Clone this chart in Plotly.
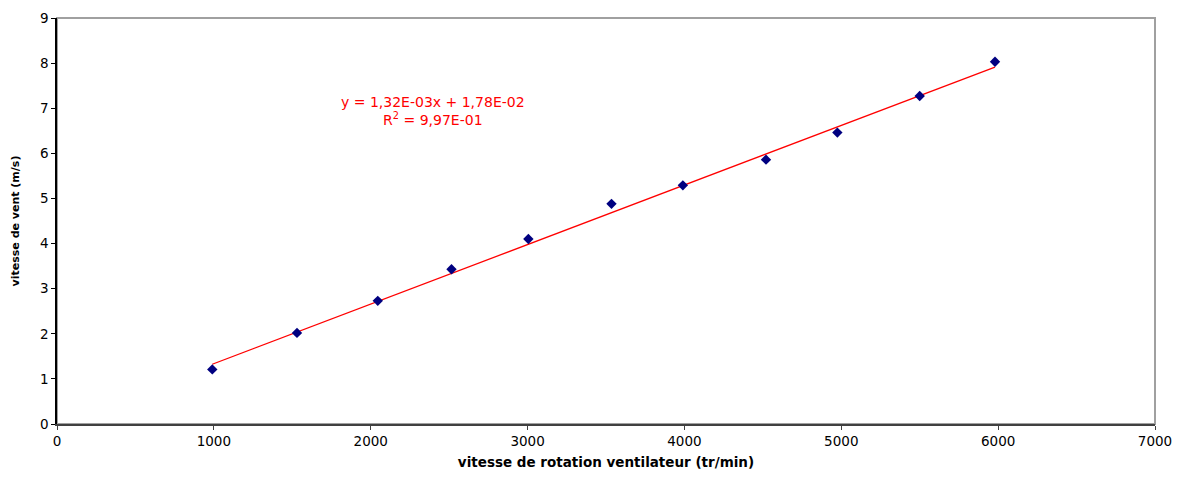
import plotly.graph_objects as go

rpm = [990, 1530, 2045, 2515, 3005, 3535, 3990, 4520, 4975, 5500, 5980]
wind = [1.21, 2.02, 2.73, 3.43, 4.10, 4.88, 5.29, 5.86, 6.46, 7.27, 8.03]
slope = 1.32e-3
intercept = 1.78e-2
eq_text = "y = 1,32E-03x + 1,78E-02<br>R<sup>2</sup> = 9,97E-01"

fit_x = [min(rpm), max(rpm)]
fit_y = [slope * v + intercept for v in fit_x]

fig = go.Figure()
fig.add_trace(go.Scatter(x=fit_x, y=fit_y, mode="lines",
                         line=dict(color="#ff0000", width=1.3), showlegend=False))
fig.add_trace(go.Scatter(x=rpm, y=wind, mode="markers",
                         marker=dict(symbol="diamond", color="#000080", size=8),
                         showlegend=False))

fig.add_annotation(x=2400, y=6.93, xref="x", yref="y", text=eq_text, showarrow=False,
                   font=dict(family="DejaVu Sans", size=14, color="#ff0000"),
                   align="center")

fig.add_shape(type="rect", xref="paper", yref="paper", x0=0, y0=0, x1=1, y1=1,
              line=dict(color="#a0a0a0", width=2), layer="below")

fig.update_layout(
    width=1182, height=478,
    margin=dict(l=57, r=26, t=10, b=53),
    paper_bgcolor="white", plot_bgcolor="white",
    font=dict(family="DejaVu Sans", size=13.5, color="#000000"),
    xaxis=dict(range=[0, 7000], dtick=1000, showgrid=False, zeroline=False,
               showline=True, linecolor="#404040", linewidth=1.5,
               ticks="outside", ticklen=4, tickcolor="#404040",
               title=dict(text="<b>vitesse de rotation ventilateur (tr/min)</b>",
                          font=dict(size=13.5), standoff=10)),
    yaxis=dict(range=[0, 9], dtick=1, showgrid=False, zeroline=False,
               showline=True, linecolor="#000000", linewidth=1.5,
               ticks="outside", ticklen=4, tickcolor="#000000",
               title=dict(text="<b>vitesse de vent (m/s)</b>",
                          font=dict(size=11), standoff=18)),
)

fig.write_html("out.html", config={"displayModeBar": False},
               post_script="document.body.style.margin='0px';document.body.style.overflow='hidden';")
